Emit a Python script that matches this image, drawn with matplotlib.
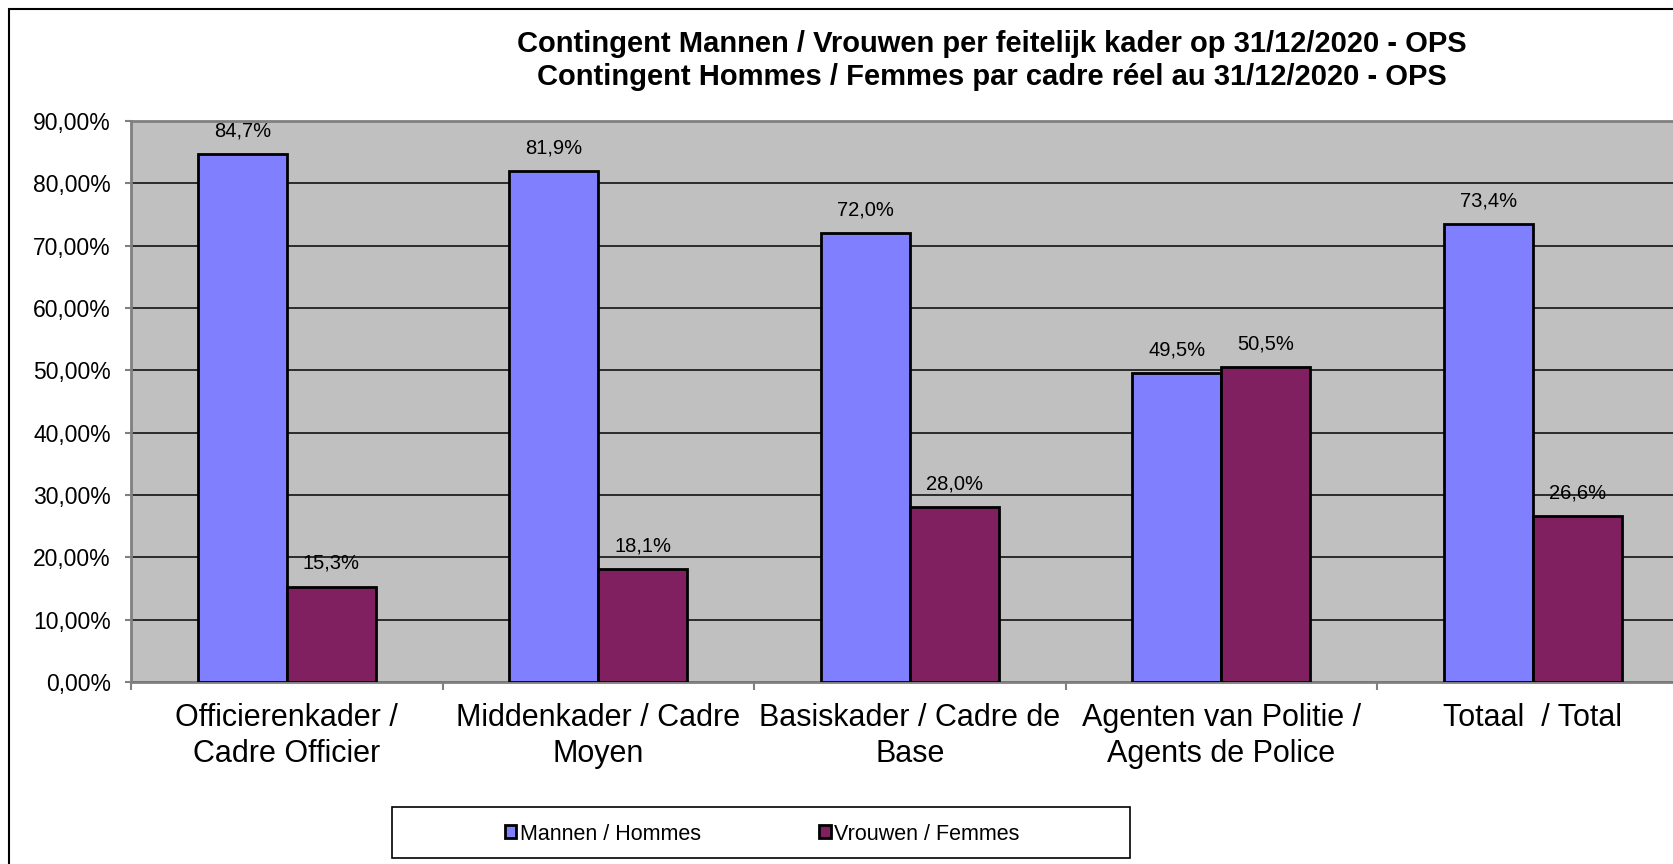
import matplotlib
matplotlib.use("Agg")
import matplotlib.pyplot as plt
from matplotlib.patches import Rectangle
import numpy as np

plt.rcParams['font.family'] = ['Liberation Sans', 'DejaVu Sans']

# data
categories = ["Officierenkader /\nCadre Officier",
              "Middenkader / Cadre\nMoyen",
              "Basiskader / Cadre de\nBase",
              "Agenten van Politie /\nAgents de Police",
              "Totaal  / Total"]
men = [84.7, 81.9, 72.0, 49.5, 73.4]
women = [15.3, 18.1, 28.0, 50.5, 26.6]
series_names = ["Mannen / Hommes", "Vrouwen / Femmes"]
yticks = [0, 10, 20, 30, 40, 50, 60, 70, 80, 90]

W, H = 1674, 864
fig = plt.figure(figsize=(W / 100, H / 100), dpi=100)

# axes placed in pixel units (plot area runs past the right edge, like the source)
left, top, bottom, right = 131, 121, 682, 1688.5
ax = fig.add_axes([left / W, (H - bottom) / H, (right - left) / W, (bottom - top) / H])
ax.set_facecolor('#C0C0C0')

x = np.arange(len(categories))
bw = 1 / 3.5
b1 = ax.bar(x - bw / 2, men, bw, color='#8080FF', edgecolor='black', linewidth=2,
            label=series_names[0], zorder=3)
b2 = ax.bar(x + bw / 2, women, bw, color='#802060', edgecolor='black', linewidth=2,
            label=series_names[1], zorder=3)

for bars, vals in [(b1, men), (b2, women)]:
    for rect, v in zip(bars, vals):
        ax.annotate(f"{v:.1f}%".replace('.', ','),
                    (rect.get_x() + rect.get_width() / 2, v),
                    xytext=(0, 10), textcoords='offset points',
                    ha='center', va='bottom', fontsize=14.5, zorder=4)

ax.set_xlim(-0.5, len(categories) - 0.5)
ax.set_ylim(0, 90)
ax.set_yticks(yticks)
ax.set_yticklabels([f"{t:.2f}%".replace('.', ',') for t in yticks], fontsize=16.5)
ax.yaxis.grid(True, color='#202020', linewidth=1.3, zorder=1)
ax.set_axisbelow(True)

ax.set_xticks(x)
ax.set_xticklabels(categories, fontsize=22, linespacing=1.25, va='top')
ax.set_xticks(np.arange(len(categories) + 1) - 0.5, minor=True)
ax.tick_params(axis='x', which='major', length=0, pad=15)
ax.tick_params(axis='x', which='minor', length=6, width=1.5, color='#808080')
ax.tick_params(axis='y', length=4.5, width=1.5, color='#808080', pad=10)

for s in ax.spines.values():
    s.set_color('#808080')
    s.set_linewidth(2)

# title, two lines
fig.text(992 / W, 1 - 44 / H, "Contingent Mannen / Vrouwen per feitelijk kader op 31/12/2020 - OPS",
         ha='center', va='center', fontsize=21, fontweight='bold')
fig.text(992 / W, 1 - 77 / H, "Contingent Hommes / Femmes par cadre réel au 31/12/2020 - OPS",
         ha='center', va='center', fontsize=21, fontweight='bold')

# outer chart frame
fig.patches.append(Rectangle((9 / W, -0.1), 1.2, 1 - 9 / H + 0.1, transform=fig.transFigure,
                             fill=False, edgecolor='black', linewidth=1.5))

# legend box
fig.patches.append(Rectangle((392 / W, (H - 858) / H), (1130 - 392) / W, 51 / H,
                             transform=fig.transFigure, fill=False,
                             edgecolor='black', linewidth=1.2))
leg = fig.legend(handles=[b1, b2], loc='center', bbox_to_anchor=(762 / W, (H - 834) / H),
                 ncol=2, frameon=False, fontsize=15.5, handlelength=0.55, handleheight=0.55,
                 handletextpad=0.15, columnspacing=5.5)

fig.savefig("out.png", dpi=100)
